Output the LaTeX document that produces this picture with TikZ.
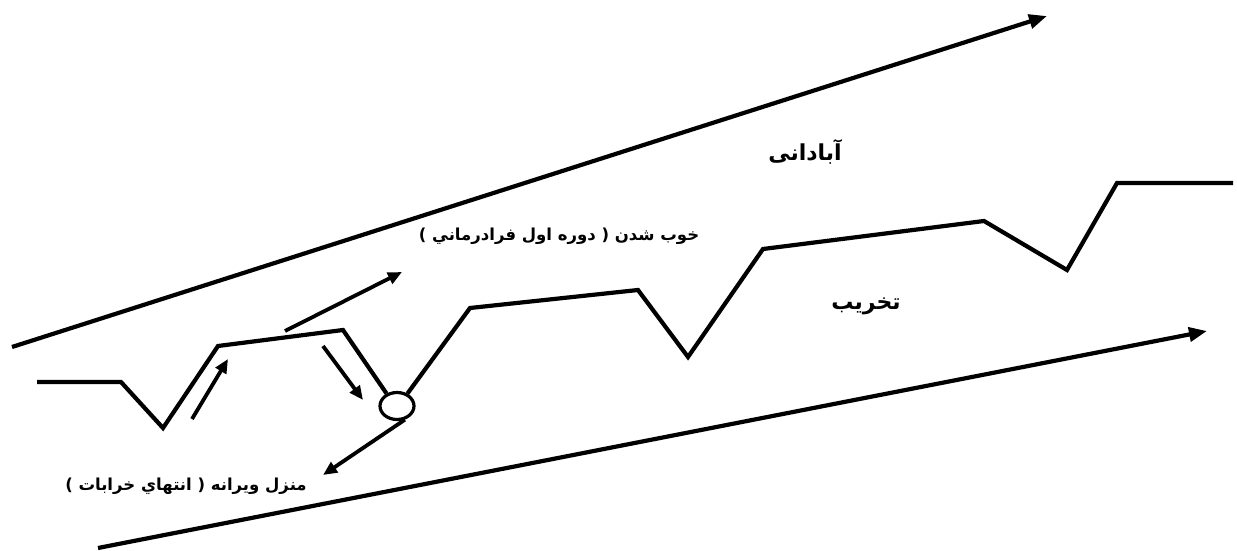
\documentclass[tikz,border=0pt]{standalone}
\usepackage{fontspec}
\usetikzlibrary{arrows.meta,shapes.geometric}
\TeXXeTstate=1
\newfontfamily\arabicfont[Script=Arabic]{DejaVu Sans}
\tikzset{
  thick line/.style={line width=4.2pt, black},
  big arrow/.style={thick line, -{Triangle[length=18pt,width=14pt]}},
  small arrow/.style={line width=3.8pt, -{Triangle[length=14pt,width=12pt]}},
  lbl/.style={font=\arabicfont\bfseries\fontsize{16.5}{18}\selectfont, inner sep=0pt},
  biglbl/.style={font=\arabicfont\bfseries\fontsize{22}{24}\selectfont, inner sep=0pt},
}
\begin{document}
\begin{tikzpicture}[x=1pt,y=-1pt]
\useasboundingbox (0,0) rectangle (1237,551);
% long arrows
\coordinate (u0) at (12,347);
\coordinate (u1) at (1047,16);
\coordinate (l0) at (98,548);
\coordinate (l1) at (1207,331);
\draw[big arrow] (u0) -- (u1);
\draw[big arrow] (l0) -- (l1);
% ellipse
\node[draw, ellipse, line width=3.2pt, minimum width=34pt, minimum height=27pt, inner sep=0pt] (e) at (397,406) {};
% zigzag
\coordinate (z0) at (37,382);
\coordinate (z1) at (121,382);
\coordinate (z2) at (163,428);
\coordinate (z3) at (218,346);
\coordinate (z4) at (343,330);
\coordinate (z5) at (470,308);
\coordinate (z6) at (638,290);
\coordinate (z7) at (688,357);
\coordinate (z8) at (763,249);
\coordinate (z9) at (984,221);
\coordinate (z10) at (1067,270);
\coordinate (z11) at (1117,183);
\coordinate (z12) at (1233,183);
\draw[thick line] (z0) -- (z1) -- (z2) -- (z3) -- (z4) -- (e.130);
\draw[thick line] (e.50) -- (z5) -- (z6) -- (z7) -- (z8) -- (z9) -- (z10) -- (z11) -- (z12);
% small arrows
\coordinate (a1s) at (192,419);
\coordinate (a1e) at (228,359);
\draw[small arrow] (a1s) -- (a1e);
\coordinate (a2s) at (323,346);
\coordinate (a2e) at (363,400);
\draw[small arrow] (a2s) -- (a2e);
\coordinate (a3s) at (285,331);
\coordinate (a3e) at (402,272);
\draw[small arrow] (a3s) -- (a3e);
\coordinate (a4e) at (323,475);
\draw[small arrow] (e.-60) -- (a4e);
% labels
\node[lbl] (t1) at (186,486) {\beginR منزل ويرانه ( انتهاي  خرابات )\endR};
\node[lbl] (t2) at (559,236) {\beginR خوب شدن ( دوره اول فرادرماني )\endR};
\node[biglbl] (t3) at (805,152) {\beginR آبادانی\endR};
\node[biglbl] (t4) at (866,306) {\beginR تخریب\endR};
\end{tikzpicture}
\end{document}
